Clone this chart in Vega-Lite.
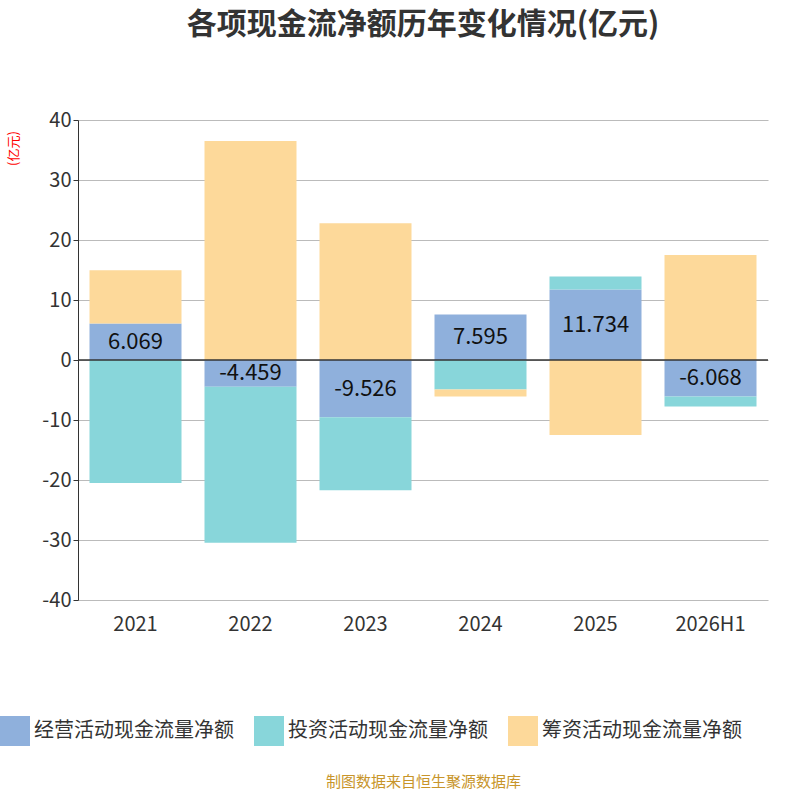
{
  "$schema": "https://vega.github.io/schema/vega-lite/v6.json",
  "autosize": {"type": "none"},
  "width": 690,
  "height": 480,
  "padding": {"left": 78, "top": 120, "right": 32, "bottom": 200},
  "background": "white",
  "config": {"view": {"stroke": null}, "font": "Noto Sans CJK SC"},
  "title": {"text": "各项现金流净额历年变化情况(亿元)", "fontSize": 30, "fontWeight": "bold", "color": "#333333", "anchor": "middle", "offset": 70},
  "data": {"values": [
    {"year": "2021", "series": "经营活动现金流量净额", "k": 1, "value": 6.069},
    {"year": "2021", "series": "投资活动现金流量净额", "k": 2, "value": -20.5},
    {"year": "2021", "series": "筹资活动现金流量净额", "k": 3, "value": 8.9},
    {"year": "2022", "series": "经营活动现金流量净额", "k": 1, "value": -4.459},
    {"year": "2022", "series": "投资活动现金流量净额", "k": 2, "value": -26.0},
    {"year": "2022", "series": "筹资活动现金流量净额", "k": 3, "value": 36.5},
    {"year": "2023", "series": "经营活动现金流量净额", "k": 1, "value": -9.526},
    {"year": "2023", "series": "投资活动现金流量净额", "k": 2, "value": -12.2},
    {"year": "2023", "series": "筹资活动现金流量净额", "k": 3, "value": 22.8},
    {"year": "2024", "series": "经营活动现金流量净额", "k": 1, "value": 7.595},
    {"year": "2024", "series": "投资活动现金流量净额", "k": 2, "value": -4.9},
    {"year": "2024", "series": "筹资活动现金流量净额", "k": 3, "value": -1.2},
    {"year": "2025", "series": "经营活动现金流量净额", "k": 1, "value": 11.734},
    {"year": "2025", "series": "投资活动现金流量净额", "k": 2, "value": 2.2},
    {"year": "2025", "series": "筹资活动现金流量净额", "k": 3, "value": -12.5},
    {"year": "2026H1", "series": "经营活动现金流量净额", "k": 1, "value": -6.068},
    {"year": "2026H1", "series": "投资活动现金流量净额", "k": 2, "value": -1.7},
    {"year": "2026H1", "series": "筹资活动现金流量净额", "k": 3, "value": 17.5}
  ]},
  "encoding": {
    "x": {"field": "year", "type": "ordinal", "sort": null, "scale": {"paddingInner": 0.2, "paddingOuter": 0.1},
      "axis": {"labelAngle": 0, "labelFontSize": 20, "labelColor": "#333333", "labelPadding": 14, "domain": false, "ticks": false,
        "title": "制图数据来自恒生聚源数据库", "titleColor": "#c8952a", "titleFontSize": 15, "titleFontWeight": "normal", "titlePadding": 140}}
  },
  "layer": [
    {
      "mark": {"type": "bar"},
      "encoding": {
        "y": {"field": "value", "type": "quantitative", "stack": "zero", "scale": {"domain": [-40, 40]},
          "axis": {"values": [-40, -30, -20, -10, 0, 10, 20, 30, 40], "labelExpr": "replace(datum.label, '−', '-')", "labelFontSize": 20, "labelColor": "#333333", "gridColor": "#bbbbbb", "domainColor": "#333333", "tickColor": "#333333",
            "title": "(亿元)", "titleColor": "red", "titleFontSize": 13, "titleFontWeight": "normal", "titleAngle": -90, "titleX": -58, "titleY": 28, "titleAlign": "center"}},
        "color": {"field": "series", "type": "nominal",
          "scale": {"domain": ["经营活动现金流量净额", "投资活动现金流量净额", "筹资活动现金流量净额"], "range": ["#8fb0dc", "#88d6da", "#fdd99a"]},
          "legend": {"orient": "none", "legendX": -78, "legendY": 596, "direction": "horizontal", "title": null, "labelFontSize": 20, "labelLimit": 400, "labelColor": "#333333", "symbolType": "square", "symbolSize": 900, "symbolStrokeWidth": 0, "columnPadding": 20}},
        "order": {"field": "k", "type": "quantitative"}
      }
    },
    {
      "data": {"values": [{}]},
      "mark": {"type": "rule", "color": "#333333", "strokeWidth": 1.5},
      "encoding": {"y": {"datum": 0}, "x": null}
    },
    {
      "transform": [{"filter": "datum.k == 1"}, {"calculate": "datum.value / 2", "as": "mid"}, {"calculate": "replace(format(datum.value, '.3f'), '−', '-')", "as": "lbl"}],
      "mark": {"type": "text", "fontSize": 22, "color": "#111111"},
      "encoding": {"y": {"field": "mid", "type": "quantitative"}, "text": {"field": "lbl", "type": "nominal"}}
    }
  ]
}
